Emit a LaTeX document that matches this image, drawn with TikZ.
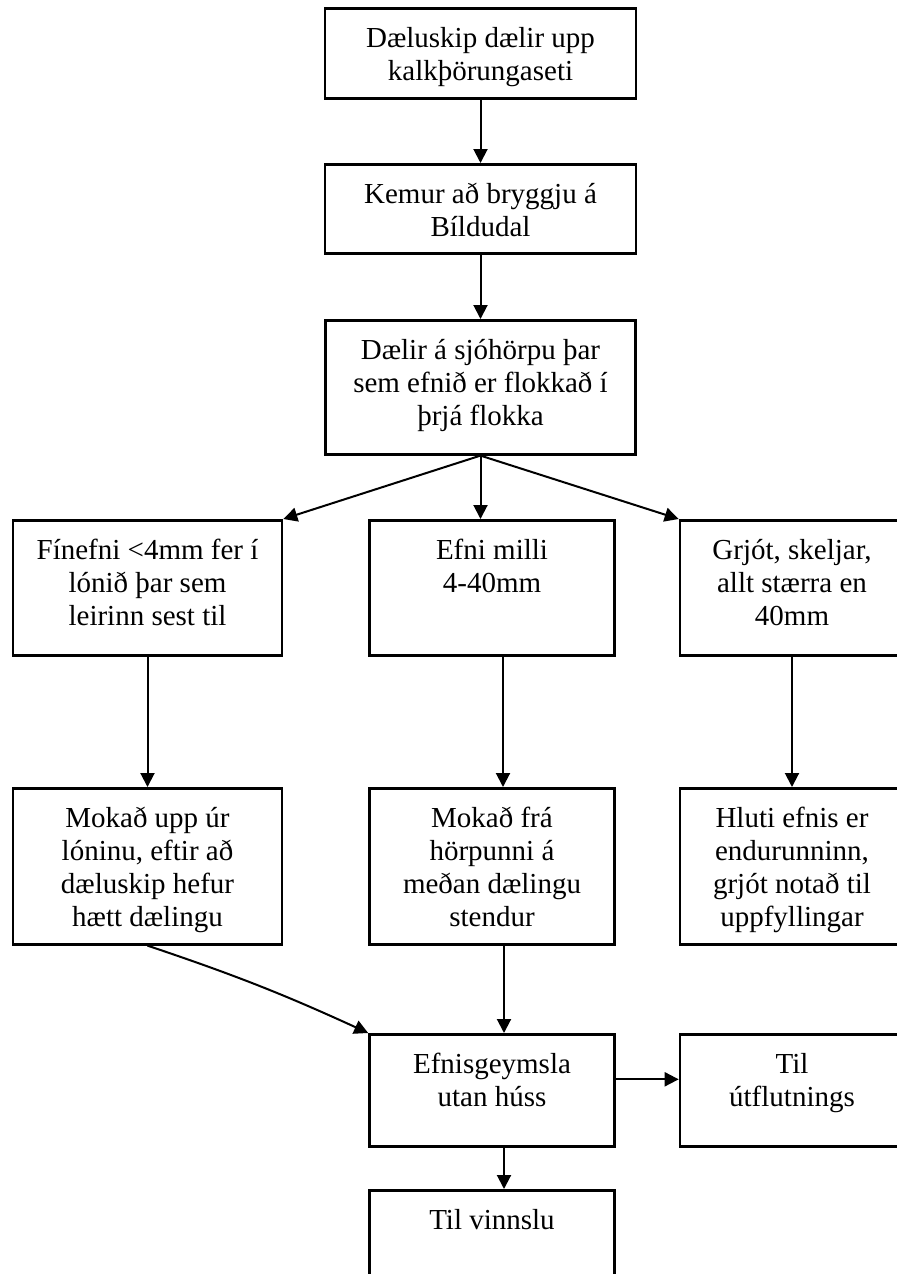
\documentclass[tikz,border=0pt]{standalone}
\usepackage{fontspec}
\setmainfont{Liberation Serif}
\usetikzlibrary{arrows.meta}
\newcommand\stagelines[1]{\begin{tabular}[t]{@{}c@{}}#1\end{tabular}}

\begin{document}
\begin{tikzpicture}[x=0.5pt,y=-0.5pt]
\tikzstyle{every node}+=[inner sep=0pt]
\tikzstyle{stage}=[draw, line width=1.3pt, anchor=north, text height=19.5pt, font=\fontsize{14.5}{16.5}\selectfont]
\tikzstyle{flow}=[line width=1pt, -{Triangle[length=7pt,width=7pt]}]
\useasboundingbox (0,0) rectangle (897,1274);
\node [stage, minimum width=155.5pt, text depth=25.5pt] (b1) at (480.5,7) {\stagelines{Dæluskip dælir upp\\kalkþörungaseti}};
\node [stage, minimum width=155.5pt, text depth=25pt] (b2) at (480.5,163) {\stagelines{Kemur að bryggju á\\Bíldudal}};
\node [stage, minimum width=155pt, text depth=47.5pt] (b3) at (480.5,319) {\stagelines{Dælir á sjóhörpu þar\\sem efnið er flokkað í\\þrjá flokka}};
\node [stage, minimum width=134.5pt, text depth=48pt] (l1) at (147.5,519) {\stagelines{Fínefni <4mm fer í\\lónið þar sem\\leirinn sest til}};
\node [stage, minimum width=122.5pt, text depth=48pt] (m1) at (492,519) {\stagelines{Efni milli\\4-40mm}};
\node [stage, minimum width=112pt, text depth=48pt] (r1) at (792,519) {\stagelines{Grjót, skeljar,\\allt stærra en\\40mm}};
\node [stage, minimum width=134.5pt, text depth=58.5pt] (l2) at (147.5,787) {\stagelines{Mokað upp úr\\lóninu, eftir að\\dæluskip hefur\\hætt dælingu}};
\node [stage, minimum width=122.5pt, text depth=58.5pt] (m2) at (492,787) {\stagelines{Mokað frá\\hörpunni á\\meðan dælingu\\stendur}};
\node [stage, minimum width=112pt, text depth=58.5pt] (r2) at (792,787) {\stagelines{Hluti efnis er\\endurunninn,\\grjót notað til\\uppfyllingar}};
\node [stage, minimum width=122.5pt, text depth=36.5pt] (e) at (492,1033) {\stagelines{Efnisgeymsla\\utan húss}};
\node [stage, minimum width=112pt, text depth=36.5pt] (u) at (792,1033) {\stagelines{Til\\útflutnings}};
\node [stage, minimum width=122.5pt, text depth=36.5pt] (v) at (492,1189) {\stagelines{Til vinnslu}};
% connectors
\draw [flow] (b1) -- (b2);
\draw [flow] (b2) -- (b3);
\draw [flow] (b3.south) -- (l1.north east);
\draw [flow] (b3.south) -- (b3.south |- m1.north);
\draw [flow] (b3.south) -- (r1.north west);
\draw [flow] (l1) -- (l2);
\draw [flow] ([xshift=5.5pt]m1.south) -- ([xshift=5.5pt]m2.north);
\draw [flow] (r1) -- (r2);
\draw [flow] (l2.south) to [bend left=3] (e.north west);
\draw [flow] ([xshift=6pt]m2.south) -- ([xshift=6pt]e.north);
\draw [flow] ([yshift=5.5pt]e.east) -- ([yshift=5.5pt]u.west);
\draw [flow] ([xshift=6pt]e.south) -- ([xshift=6pt]v.north);
\end{tikzpicture}
\end{document}
